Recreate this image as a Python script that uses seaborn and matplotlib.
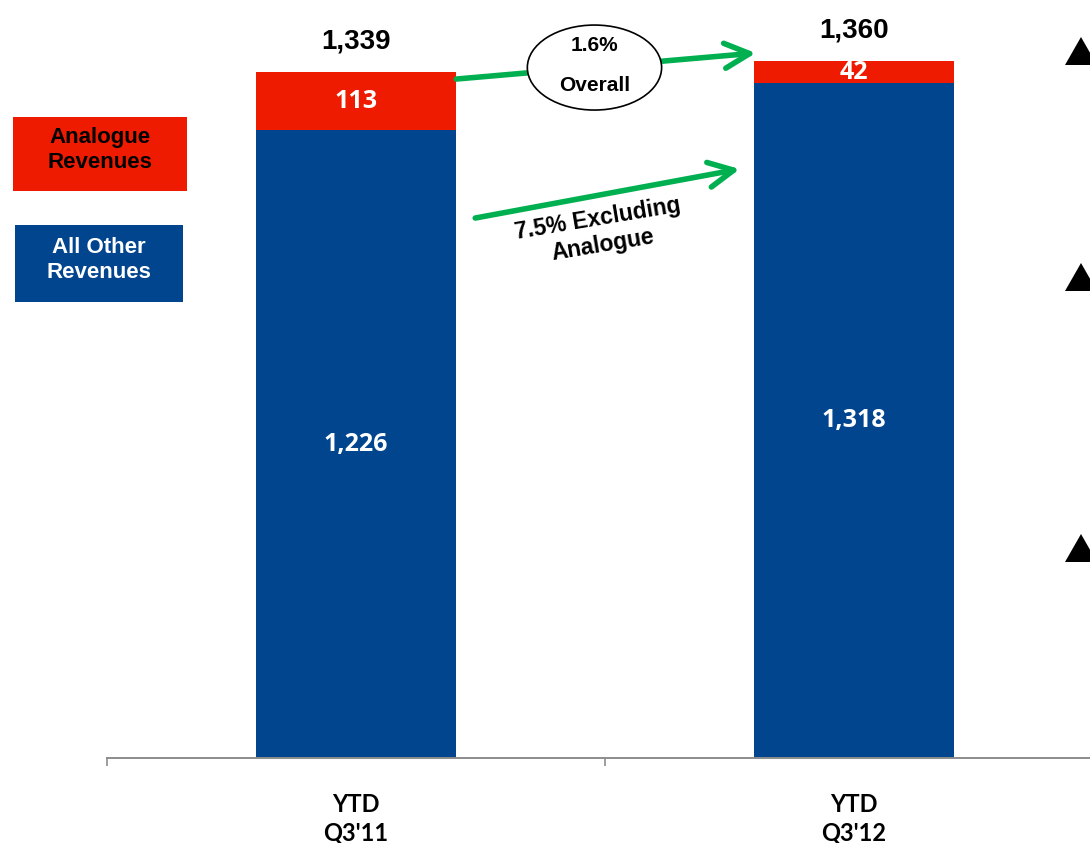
import matplotlib
matplotlib.use("Agg")
import matplotlib.pyplot as plt
import seaborn as sns
import pandas as pd
from matplotlib.patches import Ellipse, Rectangle, Polygon

# ---- data ----
categories = ["YTD\nQ3'11", "YTD\nQ3'12"]
analogue = [113, 42]
other = [1226, 1318]
totals = [1339, 1360]
total_labels = ["1,339", "1,360"]
analogue_labels = ["113", "42"]
other_labels = ["1,226", "1,318"]
overall_pct = "1.6%"
overall_word = "Overall"
excl_text = "7.5% Excluding\nAnalogue"
legend_labels = ["Analogue\nRevenues", "All Other\nRevenues"]

RED = "#EE1B00"
BLUE = "#02458F"
GREEN = "#00B050"

sns.set_theme(style="white")
plt.rcParams["text.color"] = "black"
plt.rcParams["xtick.color"] = "black"
plt.rcParams["xtick.labelcolor"] = "black"

W, H = 1090, 843
fig = plt.figure(figsize=(W / 100, H / 100), dpi=100)
fig.patch.set_facecolor("white")
ax = fig.add_axes([107 / W, 85 / H, 996 / W, 758 / H])

df = pd.DataFrame({"cat": categories, "total": totals, "other": other})
sns.barplot(data=df, x="cat", y="total", color=RED, saturation=1, width=0.4,
            linewidth=0, ax=ax)
sns.barplot(data=df, x="cat", y="other", color=BLUE, saturation=1, width=0.4,
            linewidth=0, ax=ax)

ax.set_xlim(-0.5, 1.5)
ax.set_ylim(0, 1480)
ax.set_xlabel("")
ax.set_ylabel("")
ax.set_yticks([])
ax.set_xticks([0, 1])
ax.set_xticklabels(categories, fontfamily="Lato", fontweight="bold",
                   fontsize=17, linespacing=1.3, color="black")
ax.set_xticks([-0.5, 0.5, 1.5], minor=True)
ax.tick_params(axis="x", which="major", length=0, pad=25)
ax.tick_params(axis="x", which="minor", length=6, width=1.2, color="#8C8C8C",
               direction="out", bottom=True)
for s in ["left", "top", "right"]:
    ax.spines[s].set_visible(False)
ax.spines["bottom"].set_color("#8C8C8C")
ax.spines["bottom"].set_linewidth(1.4)


# helper converting reference pixel positions to data coords (annotations only)
def X(px):
    return (px - 357) / 497.0


def Y(py):
    return (758 - py) / 0.5122


for i in range(len(categories)):
    ax.annotate(total_labels[i], (i, totals[i]), xytext=(0, 17),
                textcoords="offset points", ha="center", va="baseline",
                fontsize=20, fontweight="bold", family="Liberation Sans",
                color="black")
    ax.text(i, other[i] + analogue[i] / 2, analogue_labels[i], ha="center",
            va="center", fontsize=18, fontweight="bold", family="Open Sans",
            color="white")
    ax.text(i, other[i] / 2, other_labels[i], ha="center", va="center",
            fontsize=18, fontweight="bold", family="Open Sans", color="white")

arrow_style = dict(arrowstyle="->,head_length=1.8,head_width=0.9", color=GREEN,
                   lw=4, shrinkA=0, shrinkB=0, mutation_scale=10)
# overall arrow
ax.annotate("", xy=(X(756), Y(53)), xytext=(X(457), Y(79)),
            arrowprops=arrow_style, annotation_clip=False)
ell = Ellipse((X(595), Y(67.5)), width=134 / 497.0, height=85 / 0.5122,
              facecolor="white", edgecolor="black", lw=1.2, zorder=6)
ax.add_patch(ell)
ax.text(X(595), Y(45), overall_pct, ha="center", va="center", fontsize=15,
        fontweight="bold", family="Liberation Sans", color="black", zorder=7)
ax.text(X(595), Y(85), overall_word, ha="center", va="center", fontsize=15,
        fontweight="bold", family="Liberation Sans", color="black", zorder=7)

# excluding arrow
ax.annotate("", xy=(X(740), Y(169)), xytext=(X(476), Y(218)),
            arrowprops=arrow_style, annotation_clip=False)
ax.text(X(601), Y(232), excl_text, ha="center", va="center", fontsize=16.5,
        fontweight="bold", family="Liberation Sans", rotation=9.5,
        rotation_mode="anchor", linespacing=1.2, color="black")


# legend boxes (figure pixel coords)
def fx(px):
    return px / W


def fy(py):
    return 1 - py / H


fig.patches.append(Rectangle((fx(13), fy(191)), 174 / W, 74 / H,
                             transform=fig.transFigure, facecolor=RED,
                             edgecolor="none"))
fig.text(fx(100), fy(150), legend_labels[0], ha="center", va="center",
         fontsize=16, fontweight="bold", family="Liberation Sans",
         color="black", linespacing=1.2)
fig.patches.append(Rectangle((fx(15), fy(302)), 168 / W, 77 / H,
                             transform=fig.transFigure, facecolor=BLUE,
                             edgecolor="none"))
fig.text(fx(99), fy(260), legend_labels[1], ha="center", va="center",
         fontsize=16, fontweight="bold", family="Liberation Sans",
         color="white", linespacing=1.2)

# bullet triangles cut off at the right edge
for cy in [51, 277, 548]:
    tri = Polygon([(fx(1065), fy(cy + 14)), (fx(1097), fy(cy + 14)),
                   (fx(1081), fy(cy - 14))], closed=True,
                  transform=fig.transFigure, facecolor="black",
                  edgecolor="none")
    fig.patches.append(tri)

fig.savefig("out.png", dpi=100, facecolor="white")
